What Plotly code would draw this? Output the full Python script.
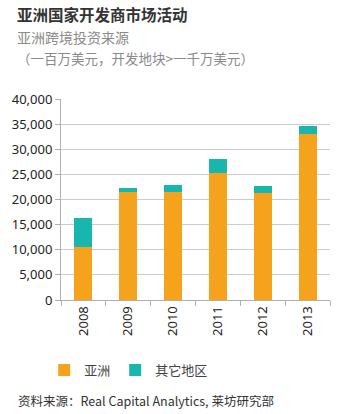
import plotly.graph_objects as go

years = ["2008", "2009", "2010", "2011", "2012", "2013"]
asia = [10600, 21500, 21500, 25200, 21200, 33000]
other = [5800, 700, 1300, 2800, 1500, 1600]
series_names = ["亚洲", "其它地区"]
colors = ["#F5A21D", "#19B5AF"]

title = "亚洲国家开发商市场活动"
subtitle1 = "亚洲跨境投资来源"
subtitle2 = "（一百万美元，开发地块>一千万美元）"
source = "资料来源：Real Capital Analytics, 莱坊研究部"

FONT = "Noto Sans CJK SC"

fig = go.Figure()
for name, vals, c in zip(series_names, [asia, other], colors):
    fig.add_trace(go.Bar(x=years, y=vals, name=name, marker=dict(color=c, line=dict(width=0)), width=0.4))

L, R, T, B = 58, 20, 99, 114
W, H = 350, 414
pw, ph = W - L - R, H - T - B

def px(x):
    return (x - L) / pw

def py(y):
    return (H - B - y) / ph

fig.update_layout(
    barmode="stack",
    width=W, height=H,
    margin=dict(l=L, r=R, t=T, b=B, pad=0),
    paper_bgcolor="white", plot_bgcolor="white",
    font=dict(family=FONT, color="#333333", size=13),
    showlegend=True,
    legend=dict(orientation="h", x=px(41), y=py(370), xanchor="left", yanchor="middle",
                font=dict(size=13, color="#444444", family=FONT), traceorder="normal",
                itemwidth=30, bgcolor="rgba(0,0,0,0)"),
    xaxis=dict(type="category", tickangle=-90, ticks="outside", ticklen=5, tickson="boundaries",
               tickcolor="#b0b0b0", showline=True, linecolor="#b0b0b0", linewidth=1,
               tickfont=dict(size=13, color="#222222", family="Noto Sans"), showgrid=False),
    yaxis=dict(range=[0, 40000], dtick=5000, tickformat=",", ticks="outside", ticklen=5,
               tickcolor="#b0b0b0", showline=True, linecolor="#b0b0b0", linewidth=1,
               gridcolor="#cccccc", gridwidth=1, zeroline=False,
               tickfont=dict(size=13, color="#222222", family="Noto Sans")),
    annotations=[
        dict(text="<b>" + title + "</b>", x=px(11), y=py(14), xref="paper", yref="paper",
             xanchor="left", yanchor="middle", showarrow=False,
             font=dict(size=15.5, color="#333333", family=FONT)),
        dict(text=subtitle1, x=px(11), y=py(37), xref="paper", yref="paper",
             xanchor="left", yanchor="middle", showarrow=False,
             font=dict(size=14, color="#8a8a8a", family=FONT)),
        dict(text=subtitle2, x=px(11), y=py(58), xref="paper", yref="paper",
             xanchor="left", yanchor="middle", showarrow=False,
             font=dict(size=13.5, color="#8a8a8a", family=FONT)),
        dict(text=source, x=px(12), y=py(400), xref="paper", yref="paper",
             xanchor="left", yanchor="middle", showarrow=False,
             font=dict(size=12.5, color="#333333", family=FONT)),
    ],
)

fig.write_html("out.html")
